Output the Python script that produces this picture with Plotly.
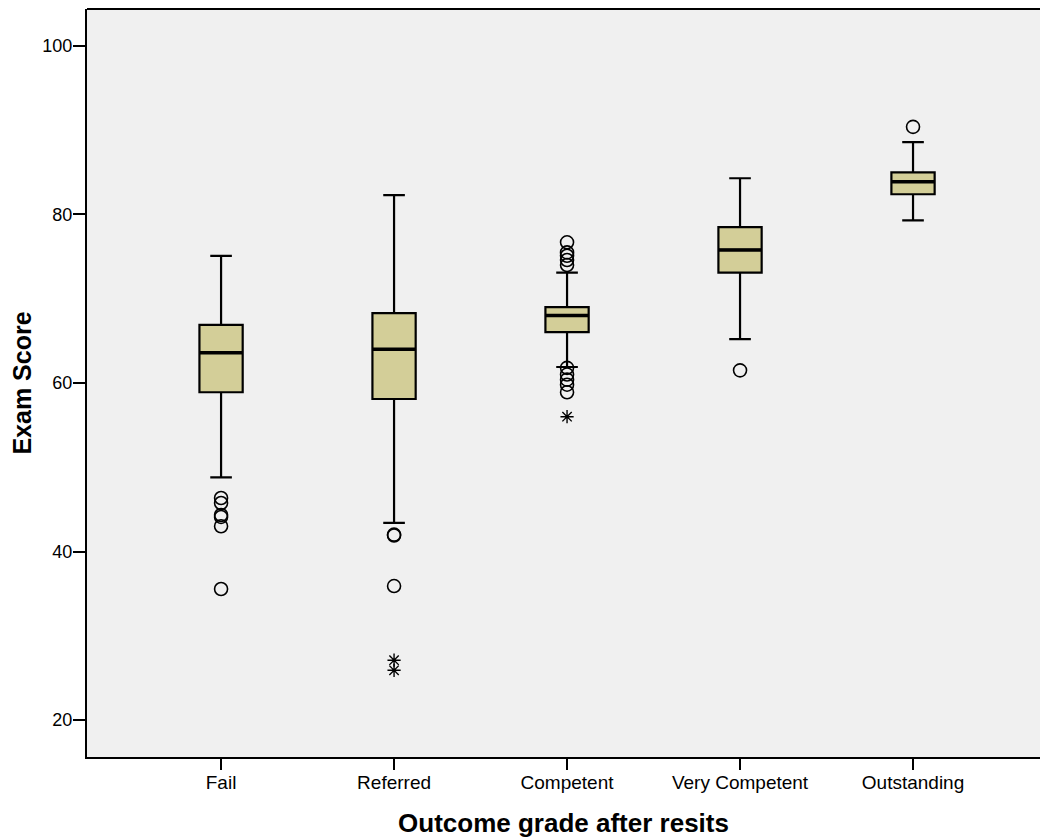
import plotly.graph_objects as go

categories = ["Fail", "Referred", "Competent", "Very Competent", "Outstanding"]
q1 = [58.9, 58.1, 66.05, 73.1, 82.4]
median = [63.6, 64.0, 68.0, 75.8, 83.9]
q3 = [66.9, 68.3, 69.0, 78.5, 85.0]
lower_whisker = [48.8, 43.4, 61.9, 65.2, 79.3]
upper_whisker = [75.1, 82.3, 73.1, 84.3, 88.6]

outlier_cat = (["Fail"] * 6 + ["Referred"] * 3 + ["Competent"] * 10
               + ["Very Competent"] + ["Outstanding"])
outlier_val = ([46.35, 45.76, 44.33, 44.1, 43.0, 35.55]
               + [42.0, 41.9, 35.9]
               + [76.7, 75.5, 75.1, 74.6, 74.0, 61.8, 61.0, 60.4, 59.8, 58.9]
               + [61.5] + [90.4])
extreme_cat = ["Referred", "Referred", "Competent"]
extreme_val = [27.1, 25.9, 56.0]

FONT = "Liberation Sans, Arial, sans-serif"
fig = go.Figure()

fig.add_trace(go.Box(
    x=categories, q1=q1, median=median, q3=q3,
    lowerfence=lower_whisker, upperfence=upper_whisker,
    fillcolor="#D3CE98", line=dict(color="black", width=2.2),
    width=0.25, whiskerwidth=0.5, boxpoints=False, showlegend=False,
    hoverinfo="skip",
))
# thick median line
fig.add_trace(go.Box(
    x=categories, q1=median, median=median, q3=median,
    lowerfence=median, upperfence=median,
    fillcolor="rgba(0,0,0,0)", line=dict(color="black", width=3.5),
    width=0.25, whiskerwidth=0.5, boxpoints=False, showlegend=False,
    hoverinfo="skip",
))
fig.add_trace(go.Scatter(
    x=outlier_cat, y=outlier_val, mode="markers",
    marker=dict(symbol="circle-open", size=13, color="black", line=dict(width=1.6)),
    showlegend=False,
))
fig.add_trace(go.Scatter(
    x=extreme_cat, y=extreme_val, mode="markers",
    marker=dict(symbol="asterisk-open", size=11, color="black", line=dict(width=1.4)),
    showlegend=False,
))

fig.update_layout(
    width=1040, height=840,
    margin=dict(l=87, r=0, t=9, b=83),
    paper_bgcolor="white", plot_bgcolor="#F0F0F0",
    font=dict(family=FONT, size=19, color="black"),
    xaxis=dict(
        range=[-0.775, 4.734], showgrid=False, zeroline=False,
        showline=True, linecolor="black", linewidth=2, mirror=False,
        ticks="outside", ticklen=11, tickwidth=2, tickcolor="black",
        tickfont=dict(size=19), ticklabelstandoff=-4,
        title=dict(text="<b>Outcome grade after resits</b>", font=dict(size=26), standoff=22),
    ),
    yaxis=dict(
        range=[15.61, 104.39], showgrid=False, zeroline=False,
        showline=True, linecolor="black", linewidth=2,
        tickvals=[20, 40, 60, 80, 100],
        ticks="outside", ticklen=12, tickwidth=2, tickcolor="black",
        tickfont=dict(size=18), ticklabelstandoff=-3,
        title=dict(text="<b>Exam Score</b>", font=dict(size=25), standoff=4),
    ),
    shapes=[dict(type="line", xref="paper", yref="paper", x0=0, x1=1, y0=1, y1=1,
                 line=dict(color="black", width=2))],
)

fig.write_html("out.html")
